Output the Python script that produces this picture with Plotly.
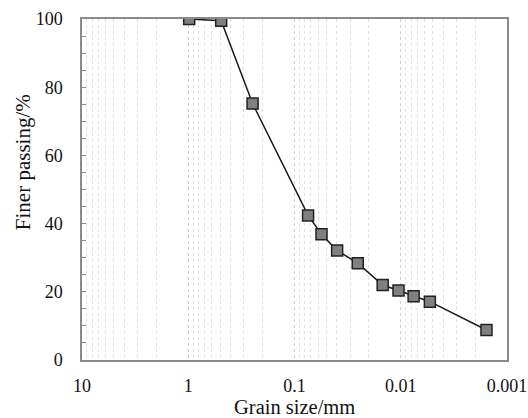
import plotly.graph_objects as go

grain_size_mm = [0.98, 0.49, 0.248, 0.0745, 0.0557, 0.0397, 0.0254, 0.0148, 0.0105, 0.00757, 0.00532, 0.00156]
finer_passing = [100.0, 99.5, 75.2, 42.4, 36.9, 32.1, 28.4, 22.0, 20.4, 18.7, 17.1, 8.8]

x_tick_vals = [10, 1, 0.1, 0.01, 0.001]
x_tick_text = ["10", "1", "0.1", "0.01", "0.001"]

x_title = "Grain size/mm"
y_title = "Finer passing/%"

font_family = "Liberation Serif, Times New Roman, serif"

fig = go.Figure()
fig.add_trace(go.Scatter(
    x=grain_size_mm, y=finer_passing, mode="lines+markers",
    line=dict(color="#1a1a1a", width=1.5),
    marker=dict(symbol="square", size=11, color="#808080",
                line=dict(color="#222222", width=1.5)),
    showlegend=False,
))

fig.update_layout(
    width=528, height=418,
    margin=dict(l=82, r=21, t=19, b=58),
    paper_bgcolor="white", plot_bgcolor="white",
    font=dict(family=font_family, size=18, color="#111111"),
    annotations=[
        dict(text=x_title, xref="paper", yref="paper", x=0.5, y=-0.137,
             xanchor="center", yanchor="middle", showarrow=False,
             font=dict(size=20.5)),
        dict(text=y_title, xref="paper", yref="paper", x=-0.139, y=0.58,
             xanchor="center", yanchor="middle", showarrow=False,
             textangle=-90, font=dict(size=21)),
    ],
)

fig.update_xaxes(
    type="log", range=[1, -3], automargin=False,
    tickvals=x_tick_vals, ticktext=x_tick_text,
    showgrid=True, gridcolor="#cfcfcf", gridwidth=1, griddash="dot",
    minor=dict(dtick="D1", showgrid=True, gridcolor="#e0e0e0", gridwidth=1, griddash="dot"),
    showline=True, linecolor="#8a8a8a", linewidth=1.5, mirror=True,
    ticks="", ticklabelstandoff=9,
    zeroline=False,
    tickfont=dict(size=18),
)

fig.update_yaxes(
    range=[0, 100], dtick=20, automargin=False,
    showgrid=False, zeroline=False,
    showline=True, linecolor="#8a8a8a", linewidth=1.5, mirror=True,
    ticks="inside", ticklen=4, tickcolor="#8a8a8a",
    minor=dict(dtick=5, ticks="inside", ticklen=4, tickcolor="#8a8a8a", showgrid=False),
    ticklabelstandoff=14,
    tickfont=dict(size=18),
)

fig.write_html("out.html")
